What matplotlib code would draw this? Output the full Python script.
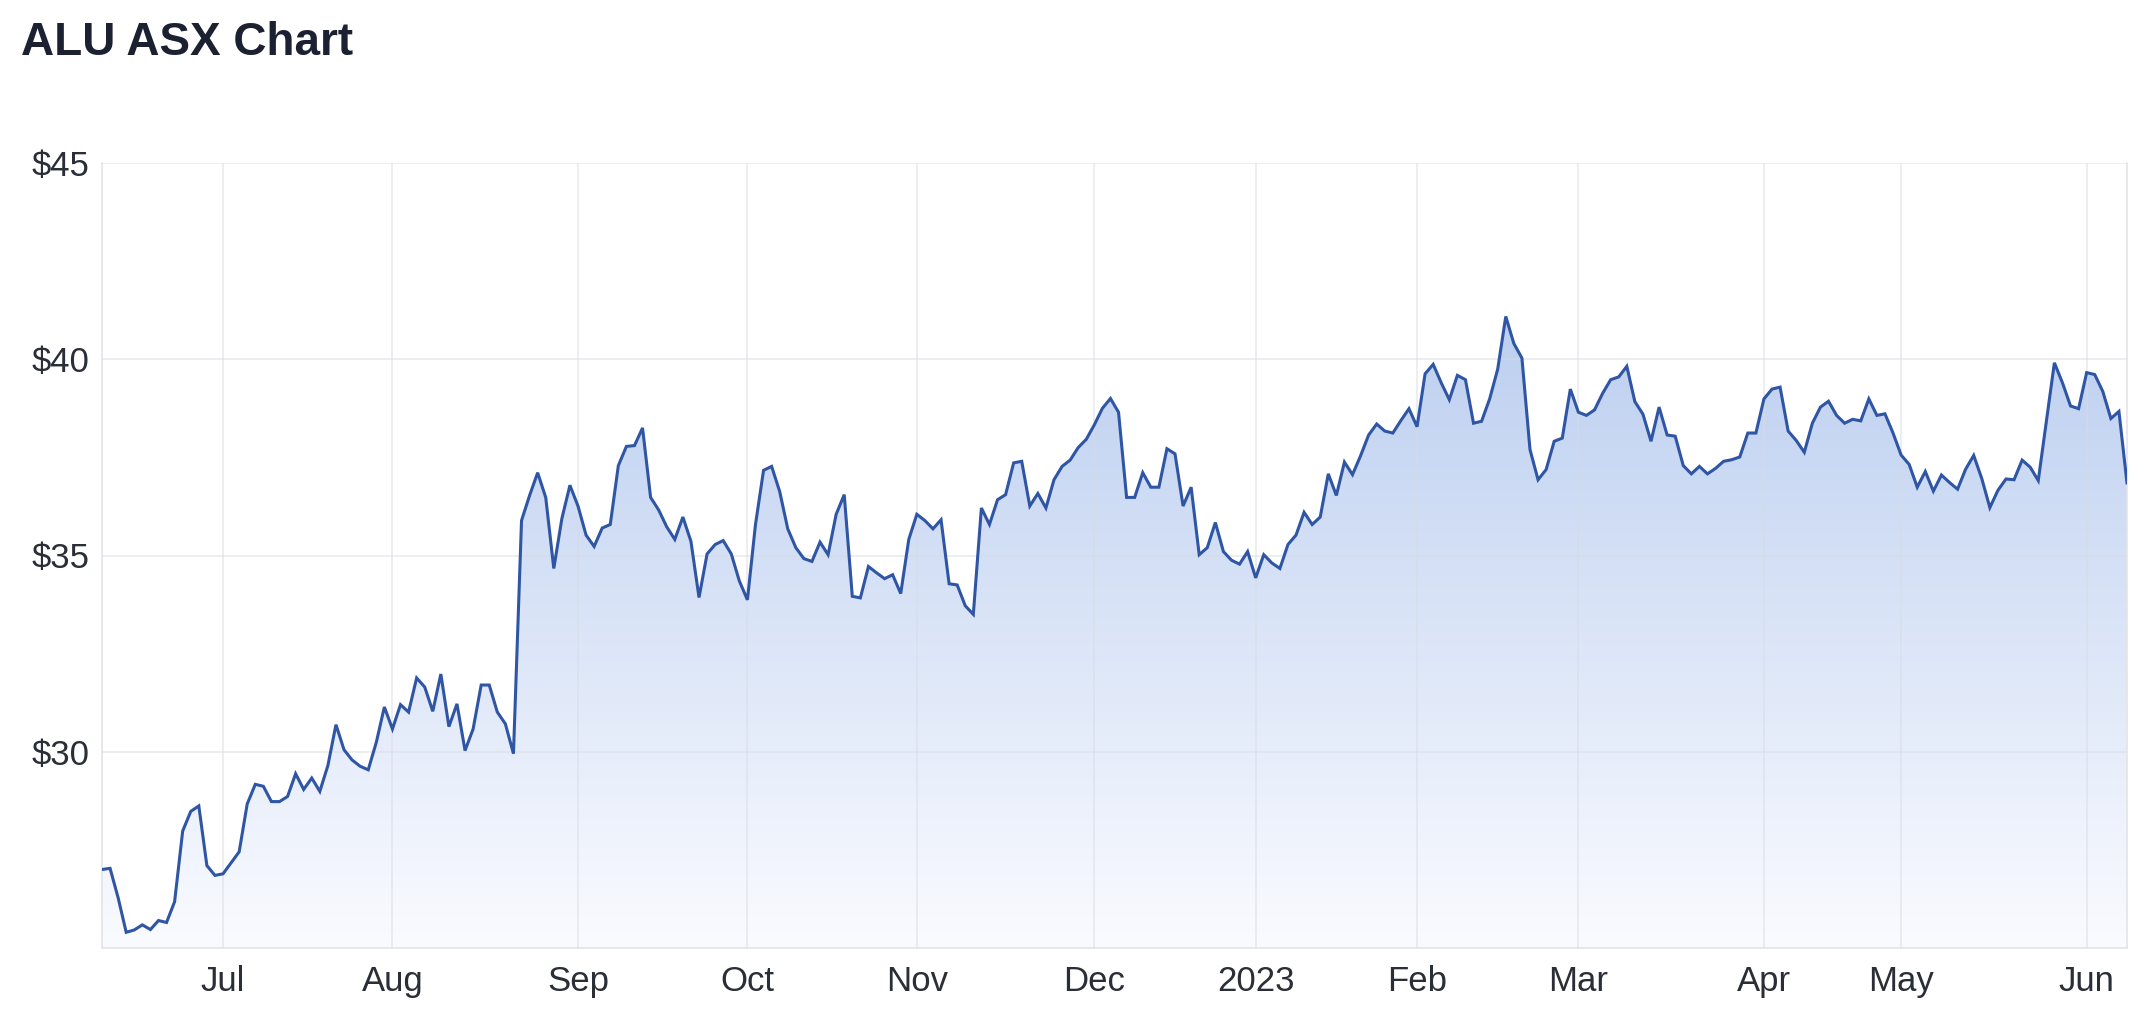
import numpy as np
import pandas as pd
import matplotlib
matplotlib.use("Agg")
import matplotlib.pyplot as plt
from matplotlib.colors import LinearSegmentedColormap
from matplotlib.patches import PathPatch

# trading calendar shown on the chart (ASX, holidays skipped)
start_date = "2022-06-09"
end_date = "2023-06-08"
asx_holidays = ["2022-06-13", "2022-09-22", "2022-12-26", "2022-12-27",
                "2023-01-02", "2023-01-26", "2023-04-07", "2023-04-10",
                "2023-04-25"]

# closing prices, one per trading day
prices = [
    27.00, 27.03, 26.28, 25.40, 25.46, 25.59, 25.47, 25.70, 25.65, 26.18,
    27.98, 28.48, 28.62, 27.10, 26.85, 26.89, 27.17, 27.45, 28.67, 29.17,
    29.12, 28.73, 28.73, 28.86, 29.44, 29.04, 29.33, 28.99, 29.65, 30.69,
    30.05, 29.79, 29.63, 29.54, 30.24, 31.14, 30.58, 31.20, 31.01, 31.88,
    31.65, 31.03, 31.98, 30.64, 31.22, 30.03, 30.58, 31.70, 31.70, 31.01,
    30.71, 29.95, 35.89, 36.53, 37.11, 36.48, 34.67, 35.94, 36.79, 36.26,
    35.52, 35.23, 35.70, 35.79, 37.29, 37.78, 37.80, 38.25, 36.48, 36.16,
    35.73, 35.41, 35.98, 35.36, 33.93, 35.04, 35.28, 35.38, 35.04, 34.35,
    33.87, 35.79, 37.17, 37.27, 36.63, 35.68, 35.20, 34.92, 34.85, 35.34,
    35.02, 36.05, 36.55, 33.96, 33.92, 34.72, 34.56, 34.41, 34.51, 34.03,
    35.41, 36.05, 35.89, 35.68, 35.91, 34.28, 34.25, 33.72, 33.50, 36.21,
    35.79, 36.42, 36.55, 37.36, 37.40, 36.26, 36.58, 36.21, 36.93, 37.27,
    37.43, 37.75, 37.96, 38.33, 38.75, 39.00, 38.65, 36.48, 36.48, 37.11,
    36.74, 36.74, 37.72, 37.59, 36.26, 36.74, 35.02, 35.20, 35.84, 35.10,
    34.88, 34.78, 35.10, 34.43, 35.02, 34.81, 34.67, 35.28, 35.52, 36.10,
    35.79, 35.98, 37.08, 36.53, 37.38, 37.06, 37.54, 38.07, 38.35, 38.17,
    38.12, 38.44, 38.74, 38.28, 39.63, 39.87, 39.40, 38.97, 39.59, 39.48,
    38.37, 38.42, 38.99, 39.75, 41.09, 40.40, 40.03, 37.70, 36.93, 37.19,
    37.91, 37.99, 39.24, 38.65, 38.57, 38.71, 39.13, 39.48, 39.55, 39.82,
    38.92, 38.60, 37.91, 38.78, 38.07, 38.04, 37.29, 37.08, 37.27, 37.08,
    37.22, 37.40, 37.44, 37.51, 38.12, 38.12, 38.99, 39.24, 39.29, 38.17,
    37.93, 37.63, 38.37, 38.78, 38.93, 38.57, 38.37, 38.47, 38.43, 38.99,
    38.57, 38.61, 38.12, 37.56, 37.32, 36.74, 37.14, 36.64, 37.05, 36.86,
    36.69, 37.20, 37.55, 36.96, 36.22, 36.66, 36.95, 36.93, 37.43, 37.25,
    36.91, 38.40, 39.91, 39.40, 38.81, 38.74, 39.66, 39.61, 39.18, 38.49,
    38.67, 36.85,
]

month_labels = ["Jul", "Aug", "Sep", "Oct", "Nov", "Dec", "2023",
                "Feb", "Mar", "Apr", "May", "Jun"]
y_ticks = [30, 35, 40, 45]
y_floor = 25

days = pd.bdate_range(start_date, end_date)
days = days[~days.isin(pd.to_datetime(asx_holidays))]
x = np.arange(len(days))
month_start = [i for i in range(1, len(days)) if days[i].month != days[i - 1].month]

plt.rcParams["font.family"] = ["Liberation Sans", "DejaVu Sans"]

W, H = 2152, 1026
fig = plt.figure(figsize=(W / 100, H / 100), dpi=100)
ax = fig.add_axes([102 / W, 1 - 948 / H, (2127 - 102) / W, (948 - 163) / H])

# gradient area under the line
area = ax.fill_between(x, prices, y_floor, facecolor="none", edgecolor="none")
clip = PathPatch(area.get_paths()[0], transform=ax.transData,
                 facecolor="none", edgecolor="none")
ax.add_patch(clip)
fade = LinearSegmentedColormap.from_list("fade", ["#fafbff", "#bccff0"])
grad = np.linspace(1, 0, 256).reshape(-1, 1)
img = ax.imshow(grad, cmap=fade, aspect="auto", origin="upper",
                extent=[x[0], x[-1], y_floor, max(prices)], zorder=1)
img.set_clip_path(clip)

ax.plot(x, prices, color="#2f55a5", lw=2.2, zorder=4, solid_joinstyle="miter")

ax.set_xlim(x[0], x[-1])
ax.set_ylim(y_floor, 45)
ax.set_xticks(month_start, labels=month_labels)
ax.set_yticks(y_ticks, labels=[f"${v}" for v in y_ticks])
ax.grid(True, color="#d8dbe3", alpha=0.55, linewidth=1.2, zorder=2)
ax.set_axisbelow(False)

ax.spines["top"].set_visible(False)
for side in ["left", "right", "bottom"]:
    ax.spines[side].set_color("#e3e4e8")
    ax.spines[side].set_linewidth(1.2)

ax.tick_params(axis="both", length=0, labelsize=25, colors="#2a2e36")
ax.tick_params(axis="y", pad=9)
ax.tick_params(axis="x", pad=12)

fig.text(21 / W, 1 - 55 / H, "ALU ASX Chart", fontsize=33, fontweight="bold",
         color="#1b2131", va="baseline", ha="left")

fig.savefig("out.png", dpi=100)
